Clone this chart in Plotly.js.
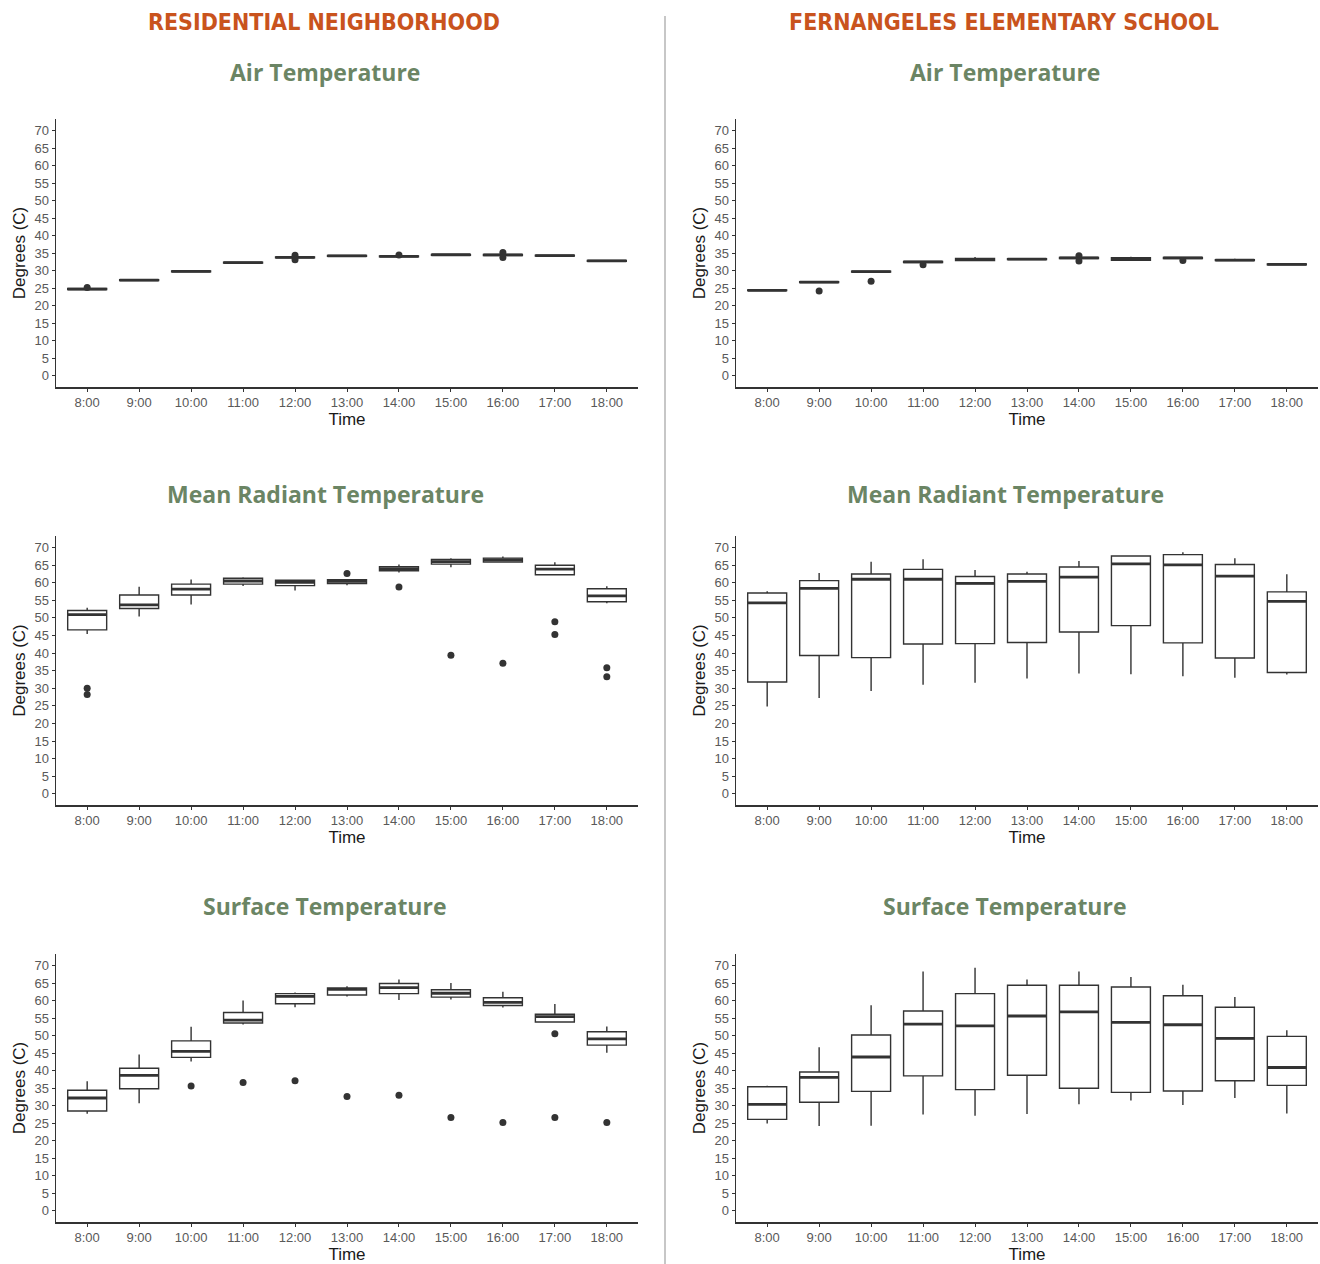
<!DOCTYPE html>
<html>
<head>
<meta charset="utf-8">
<script src="https://cdn.plot.ly/plotly-3.0.1.min.js"></script>
<style>html,body{margin:0;padding:0;background:#fff;}#chart{width:1320px;height:1264px;}</style>
</head>
<body>
<div id="chart"></div>
<script>
// ---------------- DATA ----------------
const times = ["8:00","9:00","10:00","11:00","12:00","13:00","14:00","15:00","16:00","17:00","18:00"];
const columnTitles = ["RESIDENTIAL NEIGHBORHOOD", "FERNANGELES ELEMENTARY SCHOOL"];
const panelTitles = ["Air Temperature", "Mean Radiant Temperature", "Surface Temperature"];

// Residential – Air Temperature
const resAirLo  = [24.4, 27.1, 29.6, 32.1, 33.5, 34.0, 33.9, 34.3, 34.2, 34.1, 32.6];
const resAirQ1  = [24.6, 27.2, 29.7, 32.2, 33.65, 34.1, 34.0, 34.4, 34.35, 34.2, 32.7];
const resAirMed = [24.75, 27.3, 29.8, 32.3, 33.8, 34.25, 34.1, 34.55, 34.5, 34.3, 32.8];
const resAirQ3  = [24.9, 27.4, 29.9, 32.45, 33.95, 34.35, 34.2, 34.65, 34.65, 34.4, 32.9];
const resAirHi  = [25.1, 27.5, 30.0, 32.6, 34.1, 34.5, 34.3, 34.8, 34.8, 34.5, 33.0];
const resAirOutX = ["8:00","12:00","12:00","14:00","16:00","16:00"];
const resAirOutY = [25.2, 34.4, 33.1, 34.5, 35.2, 33.8];

// School – Air Temperature
const schAirLo  = [24.2, 26.5, 29.5, 32.2, 32.8, 33.1, 33.3, 32.9, 33.4, 32.8, 31.6];
const schAirQ1  = [24.3, 26.6, 29.6, 32.35, 32.9, 33.2, 33.45, 33.0, 33.5, 32.9, 31.7];
const schAirMed = [24.4, 26.75, 29.75, 32.5, 33.2, 33.3, 33.65, 33.3, 33.65, 33.0, 31.8];
const schAirQ3  = [24.5, 26.85, 29.85, 32.65, 33.5, 33.4, 33.8, 33.7, 33.8, 33.15, 31.95];
const schAirHi  = [24.6, 27.0, 30.0, 32.8, 33.9, 33.5, 34.0, 34.0, 33.9, 33.4, 32.1];
const schAirOutX = ["9:00","10:00","11:00","14:00","14:00","16:00"];
const schAirOutY = [24.2, 27.0, 31.7, 34.3, 32.8, 32.9];

// Residential – Mean Radiant Temperature
const resMrtLo  = [45.4, 50.4, 53.8, 59.1, 57.8, 59.3, 62.95, 64.4, 65.7, 62.1, 54.2];
const resMrtQ1  = [46.6, 52.7, 56.5, 59.6, 59.2, 59.8, 63.4, 65.3, 65.9, 62.3, 54.6];
const resMrtMed = [50.95, 53.7, 58.2, 60.5, 60.1, 60.4, 64.0, 66.0, 66.5, 63.9, 56.3];
const resMrtQ3  = [52.1, 56.5, 59.6, 61.3, 60.7, 60.9, 64.6, 66.6, 67.0, 65.0, 58.3];
const resMrtHi  = [52.9, 58.9, 60.9, 61.6, 60.9, 61.1, 65.2, 67.0, 67.5, 65.8, 59.0];
const resMrtOutX = ["8:00","8:00","13:00","14:00","15:00","16:00","17:00","17:00","18:00","18:00"];
const resMrtOutY = [30.0, 28.2, 62.6, 58.8, 39.4, 37.1, 48.9, 45.3, 35.8, 33.3];

// School – Mean Radiant Temperature
const schMrtLo  = [24.8, 27.2, 29.2, 31.0, 31.6, 32.8, 34.2, 34.0, 33.4, 33.0, 33.9];
const schMrtQ1  = [31.8, 39.3, 38.7, 42.6, 42.7, 43.0, 46.0, 47.8, 42.9, 38.6, 34.5];
const schMrtMed = [54.3, 58.4, 61.0, 61.0, 59.8, 60.4, 61.6, 65.4, 65.1, 61.9, 54.7];
const schMrtQ3  = [57.1, 60.6, 62.5, 63.8, 61.8, 62.5, 64.5, 67.6, 68.0, 65.2, 57.4];
const schMrtHi  = [57.6, 62.8, 66.0, 66.7, 63.6, 63.1, 66.2, 67.8, 68.7, 67.0, 62.4];
const schMrtOutX = [];
const schMrtOutY = [];

// Residential – Surface Temperature
const resSurfLo  = [27.7, 30.7, 42.6, 53.2, 58.1, 61.2, 60.2, 60.3, 58.0, 53.7, 45.1];
const resSurfQ1  = [28.5, 34.85, 43.8, 53.6, 59.1, 61.6, 62.0, 61.0, 58.6, 53.9, 47.3];
const resSurfMed = [32.2, 38.65, 45.5, 54.4, 61.2, 63.2, 63.7, 62.1, 59.5, 55.4, 49.1];
const resSurfQ3  = [34.4, 40.7, 48.5, 56.6, 62.0, 63.6, 64.9, 63.1, 60.8, 56.1, 51.1];
const resSurfHi  = [37.0, 44.6, 52.5, 60.0, 62.3, 64.1, 66.0, 65.0, 62.5, 59.0, 52.6];
const resSurfOutX = ["10:00","11:00","12:00","13:00","14:00","15:00","16:00","17:00","17:00","18:00"];
const resSurfOutY = [35.6, 36.6, 37.1, 32.6, 33.0, 26.6, 25.2, 50.5, 26.6, 25.2];

// School – Surface Temperature
const schSurfLo  = [24.9, 24.2, 24.3, 27.5, 27.1, 27.6, 30.4, 31.5, 30.2, 32.2, 27.8];
const schSurfQ1  = [26.1, 31.0, 34.1, 38.5, 34.6, 38.7, 35.0, 33.8, 34.2, 37.1, 35.8];
const schSurfMed = [30.4, 38.1, 43.9, 53.3, 52.8, 55.6, 56.8, 53.8, 53.1, 49.2, 40.9];
const schSurfQ3  = [35.4, 39.6, 50.2, 57.05, 62.0, 64.4, 64.4, 63.9, 61.4, 58.1, 49.8];
const schSurfHi  = [35.7, 46.7, 58.7, 68.3, 69.4, 66.0, 68.3, 66.7, 64.5, 61.0, 51.5];
const schSurfOutX = [];
const schSurfOutY = [];

// ---------------- STYLE ----------------
const W = 1320, H = 1264;
const lineCol = '#333333';
const tickFont = {family: 'Liberation Sans, Arial, sans-serif', size: 13, color: '#595959'};
const axTitleFont = {family: 'Liberation Sans, Arial, sans-serif', size: 17, color: '#1a1a1a'};

const colX = [[56, 638], [736, 1318]];
const rowY = [[119, 387], [536, 805], [954, 1222]];

const panels = [
  [resAirLo, resAirQ1, resAirMed, resAirQ3, resAirHi, resAirOutX, resAirOutY],
  [schAirLo, schAirQ1, schAirMed, schAirQ3, schAirHi, schAirOutX, schAirOutY],
  [resMrtLo, resMrtQ1, resMrtMed, resMrtQ3, resMrtHi, resMrtOutX, resMrtOutY],
  [schMrtLo, schMrtQ1, schMrtMed, schMrtQ3, schMrtHi, schMrtOutX, schMrtOutY],
  [resSurfLo, resSurfQ1, resSurfMed, resSurfQ3, resSurfHi, resSurfOutX, resSurfOutY],
  [schSurfLo, schSurfQ1, schSurfMed, schSurfQ3, schSurfHi, schSurfOutX, schSurfOutY]
];

const traces = [];
const layout = {
  width: W, height: H,
  margin: {l: 0, r: 0, t: 0, b: 0},
  paper_bgcolor: '#ffffff', plot_bgcolor: '#ffffff',
  showlegend: false, boxmode: 'overlay',
  annotations: [], shapes: []
};

panels.forEach((p, i) => {
  const n = i + 1;
  const xa = n === 1 ? 'x' : 'x' + n;
  const ya = n === 1 ? 'y' : 'y' + n;
  const col = i % 2, row = Math.floor(i / 2);
  const [lo, q1, med, q3, hi, ox, oy] = p;
  traces.push({
    type: 'box', x: times, q1: q1, median: med, q3: q3, lowerfence: lo, upperfence: hi,
    xaxis: xa, yaxis: ya, width: 0.75, whiskerwidth: 0, boxpoints: false,
    fillcolor: '#ffffff', line: {color: lineCol, width: 1.4}, hoverinfo: 'skip'
  });
  traces.push({
    type: 'box', x: times, q1: med, median: med, q3: med, lowerfence: med, upperfence: med,
    xaxis: xa, yaxis: ya, width: 0.75, whiskerwidth: 0, boxpoints: false,
    fillcolor: 'rgba(0,0,0,0)', line: {color: lineCol, width: 2.8}, hoverinfo: 'skip'
  });
  if (ox.length) {
    traces.push({
      type: 'scatter', mode: 'markers', x: ox, y: oy, xaxis: xa, yaxis: ya,
      marker: {color: lineCol, size: 7}, hoverinfo: 'skip', cliponaxis: false
    });
  }
  const xkey = n === 1 ? 'xaxis' : 'xaxis' + n;
  const ykey = n === 1 ? 'yaxis' : 'yaxis' + n;
  layout[xkey] = {
    domain: [colX[col][0] / W, colX[col][1] / W], anchor: ya,
    type: 'category', categoryorder: 'array', categoryarray: times,
    range: [-0.6, 10.6], showgrid: false, zeroline: false,
    showline: true, linecolor: lineCol, linewidth: 1.5,
    ticks: 'outside', ticklen: 3, tickcolor: lineCol, tickfont: tickFont,
    title: {text: 'Time', font: axTitleFont, standoff: 4}, fixedrange: true
  };
  layout[ykey] = {
    domain: [1 - rowY[row][1] / H, 1 - rowY[row][0] / H], anchor: xa,
    range: [-3.2, 73.3], tickmode: 'linear', tick0: 0, dtick: 5,
    showgrid: false, zeroline: false,
    showline: true, linecolor: lineCol, linewidth: 1.5,
    ticks: 'outside', ticklen: 3, tickcolor: lineCol, tickfont: tickFont,
    title: {text: 'Degrees (C)', font: axTitleFont, standoff: 4}, fixedrange: true
  };
});

// column headers
const colCenters = [324, 1004];
columnTitles.forEach((t, c) => {
  layout.annotations.push({
    text: t, xref: 'paper', yref: 'paper',
    x: colCenters[c] / W, y: 1 - 22 / H, xanchor: 'center', yanchor: 'middle', showarrow: false,
    font: {family: 'Liberation Sans Narrow, DejaVu Sans Condensed, Arial Narrow, sans-serif', size: 23, weight: 700, color: '#c9531d'}
  });
});
// panel titles
const titleY = [72, 494, 906];
panelTitles.forEach((t, r) => {
  [0, 1].forEach(c => {
    layout.annotations.push({
      text: t, xref: 'paper', yref: 'paper',
      x: (colCenters[c] + 1) / W, y: 1 - titleY[r] / H, xanchor: 'center', yanchor: 'middle', showarrow: false,
      font: {family: 'Open Sans, Lato, sans-serif', size: 23, weight: 700, color: '#6b8564'}
    });
  });
});
// divider
layout.shapes.push({
  type: 'line', xref: 'paper', yref: 'paper',
  x0: 665 / W, x1: 665 / W, y0: 0, y1: 1 - 16 / H,
  line: {color: '#b5b5b5', width: 1.5}
});

Plotly.newPlot('chart', traces, layout, {displayModeBar: false, staticPlot: true});
</script>
</body>
</html>
